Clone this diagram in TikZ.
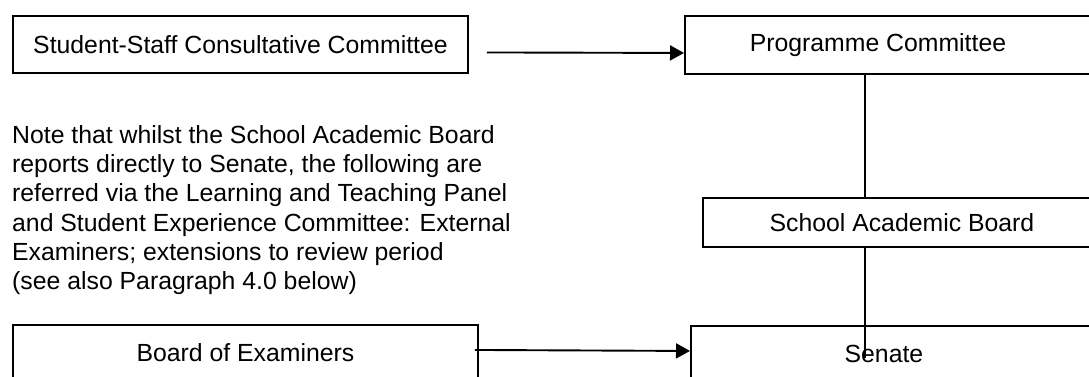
\documentclass[tikz,border=0pt]{standalone}
\usepackage{fontspec}
\setmainfont{Liberation Sans}
\usepackage{tikz}
\usetikzlibrary{arrows.meta, positioning, calc}

\begin{document}
\begin{tikzpicture}[x=1pt,y=-1pt,
  B/.style={draw=black,line width=1.9pt,inner sep=0pt,
            font=\fontsize{24.8}{29.3}\selectfont,anchor=north west},
  A/.style={line width=1.9pt,-{Triangle[length=14pt,width=15pt]}},
  L/.style={line width=1.9pt}]

\useasboundingbox (0,0) rectangle (1089,376);
\clip (0,0) rectangle (1089,376);

% left column
\node[B,minimum width=455pt,minimum height=57pt] (sscc) at (12,15)
     {Student-Staff Consultative Committee};
\node[B,minimum width=465pt,minimum height=56pt] (boe) at (12,324)
     {Board of Examiners};
\node[inner sep=0pt,anchor=north west,align=left,
      font=\fontsize{24.8}{29.3}\selectfont] (note) at (12,125)
     {Note that whilst the School Academic Board\\
      reports directly to Senate, the following are\\
      referred via the Learning and Teaching Panel\\
      and Student Experience Committee: External\\
      Examiners; extensions to review period\\
      (see also Paragraph 4.0 below)};

% right column
\node[B,minimum width=416pt,minimum height=58pt] (pc) at (684,15)
     {\hspace*{-30pt}Programme Committee};
\node[B,minimum width=398pt,minimum height=49pt] (sab) at (702,197)
     {School Academic Board};
\node[B,minimum width=410pt,minimum height=56pt] (senate) at (690,325)
     {\hspace*{-24pt}Senate};

\coordinate (spine) at (865,0);
\coordinate (spineend) at (865,358);

\draw[A] ([xshift=18pt,yshift=-8pt]sscc.east) -- ([yshift=-8pt]pc.west);
\draw[A] ([xshift=-4pt,yshift=3pt]boe.east) -- ([yshift=3pt]senate.west);
\draw[L] (pc.south -| spine) -- (sab.north -| spine);
\draw[L] (sab.south -| spine) -- (spineend);
\end{tikzpicture}
\end{document}
